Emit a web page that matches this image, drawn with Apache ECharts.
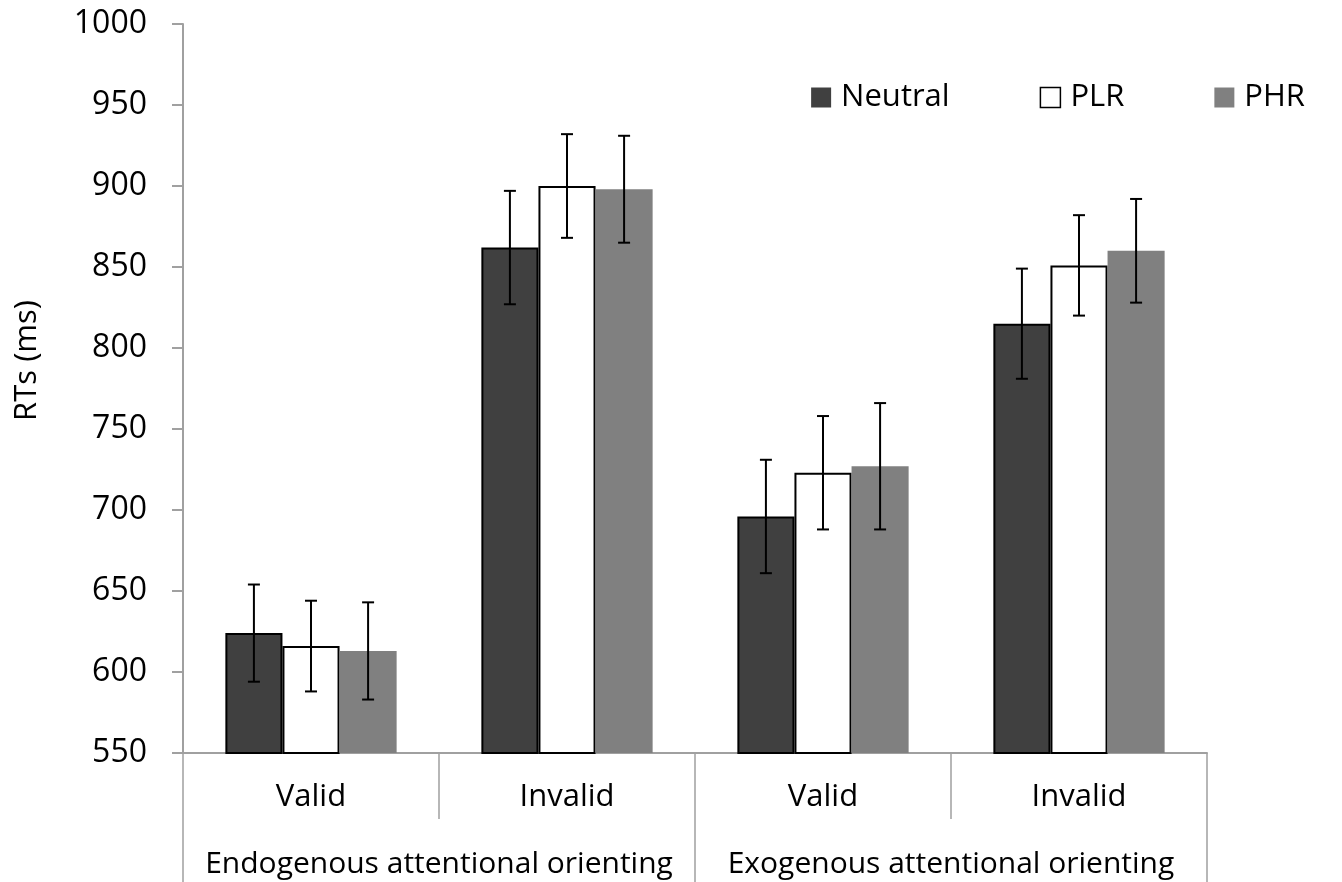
<!DOCTYPE html>
<html>
<head>
<meta charset="utf-8">
<script src="https://cdn.jsdelivr.net/npm/echarts@6/dist/echarts.min.js"></script>
<style>
    html, body { margin: 0; padding: 0; background: #fff; }
    #chart { width: 1342px; height: 882px; }
</style>
</head>
<body>
<div id="chart"></div>
<script>
// 数据
var conditions = ['Valid', 'Invalid', 'Valid', 'Invalid'];
var groups = ['Endogenous attentional orienting', 'Exogenous attentional orienting'];
var seriesNames = ['Neutral', 'PLR', 'PHR'];

var neutral = [624, 862, 696, 815];
var plr = [616, 900, 723, 851];
var phr = [613, 898, 727, 860];

// error bar half-widths (ms)
var neutralErr = [30, 35, 35, 34];
var plrErr = [28, 32, 35, 31];
var phrErr = [30, 33, 39, 32];

var yTicks = [550, 1000, 50];

var font = 'Open Sans';
var axisGray = '#a0a0a0';
var barWidthRatio = 0.223;

function errData(means, errs) {
    var out = [];
    for (var i = 0; i < means.length; i++) {
        out.push([i, means[i] - errs[i], means[i] + errs[i]]);
    }
    return out;
}

function errSeries(means, errs, idx) {
    return {
        type: 'custom',
        xAxisIndex: 0,
        z: 10,
        silent: true,
        data: errData(means, errs),
        encode: { x: 0, y: [1, 2] },
        renderItem: function (params, api) {
            var band = api.size([1, 0])[0];
            var off = (idx - 1) * band * barWidthRatio;
            var lo = api.coord([api.value(0), api.value(1)]);
            var hi = api.coord([api.value(0), api.value(2)]);
            var x = lo[0] + off;
            var cap = 6;
            var st = { stroke: '#000', lineWidth: 2 };
            return {
                type: 'group',
                children: [
                    { type: 'line', shape: { x1: x, y1: lo[1], x2: x, y2: hi[1] }, style: st },
                    { type: 'line', shape: { x1: x - cap, y1: lo[1], x2: x + cap, y2: lo[1] }, style: st },
                    { type: 'line', shape: { x1: x - cap, y1: hi[1], x2: x + cap, y2: hi[1] }, style: st }
                ]
            };
        }
    };
}

var myChart = echarts.init(document.getElementById('chart'));

var option = {
    animation: false,
    backgroundColor: '#fff',
    grid: { left: 183, right: 135, top: 24, bottom: 129 },
    legend: {
        data: [
            { name: 'Neutral', itemStyle: { borderWidth: 0 } },
            { name: 'PLR', itemStyle: { borderWidth: 1.5 } },
            { name: 'PHR' }
        ],
        right: 32,
        top: 77,
        itemWidth: 20,
        itemHeight: 20,
        itemGap: 90,
        icon: 'rect',
        textStyle: { fontFamily: font, fontSize: 31, color: '#000', padding: [0, 0, 0, 5] }
    },
    xAxis: [
        {
            type: 'category',
            data: conditions,
            axisLine: { show: true, lineStyle: { color: axisGray, width: 2 } },
            axisTick: { show: true, length: 66, interval: 0, lineStyle: { color: axisGray, width: 1.5 } },
            axisLabel: { interval: 0, margin: 29, fontFamily: font, fontSize: 31, color: '#000' }
        },
        {
            type: 'category',
            data: groups,
            position: 'bottom',
            axisLine: { show: false },
            axisTick: { show: true, length: 129, interval: 0, lineStyle: { color: axisGray, width: 1.5 } },
            axisLabel: { interval: 0, margin: 96, fontFamily: font, fontSize: 30, color: '#000' }
        }
    ],
    yAxis: {
        type: 'value',
        min: yTicks[0],
        max: yTicks[1],
        interval: yTicks[2],
        name: 'RTs (ms)',
        nameLocation: 'middle',
        nameGap: 140,
        nameTextStyle: { fontFamily: font, fontSize: 31, color: '#000', padding: [0, 0, 0, 56] },
        axisLine: { show: true, lineStyle: { color: axisGray, width: 2 } },
        axisTick: { show: true, length: 11, lineStyle: { color: axisGray, width: 2 } },
        splitLine: { show: false },
        axisLabel: {
            margin: 36, fontFamily: font, fontSize: 32, color: '#000',
            formatter: function (v) { return String(v); }
        }
    },
    series: [
        {
            name: 'Neutral',
            type: 'bar',
            barWidth: (barWidthRatio * 100) + '%',
            barGap: '0%',
            data: neutral,
            itemStyle: { color: '#404040', borderColor: '#000', borderWidth: 2 }
        },
        {
            name: 'PLR',
            type: 'bar',
            barWidth: (barWidthRatio * 100) + '%',
            barGap: '0%',
            data: plr,
            itemStyle: { color: '#fff', borderColor: '#000', borderWidth: 2 }
        },
        {
            name: 'PHR',
            type: 'bar',
            barWidth: (barWidthRatio * 100) + '%',
            barGap: '0%',
            data: phr,
            itemStyle: { color: '#808080' }
        },
        errSeries(neutral, neutralErr, 0),
        errSeries(plr, plrErr, 1),
        errSeries(phr, phrErr, 2)
    ]
};

myChart.setOption(option);
</script>
</body>
</html>
